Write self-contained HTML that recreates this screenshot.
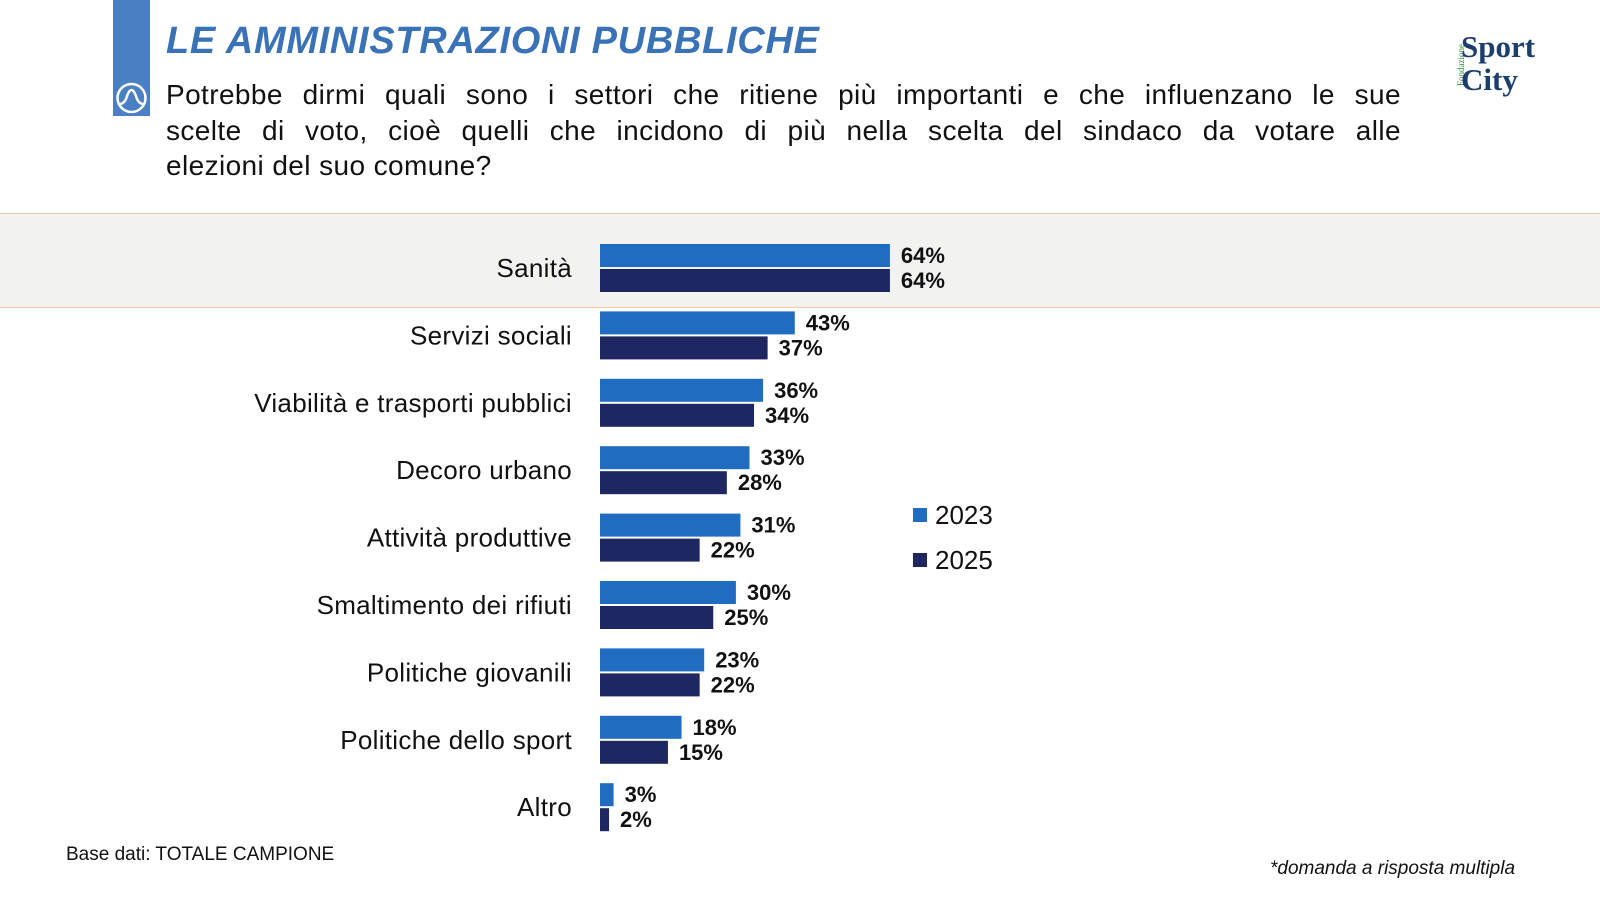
<!DOCTYPE html>
<html><head><meta charset="utf-8"><style>
body{margin:0;width:1600px;height:900px;background:#fff;position:relative;overflow:hidden;font-family:"Liberation Sans","DejaVu Sans",sans-serif;}
.abs{position:absolute;}
.ql{width:1235px;text-align:justify;text-align-last:justify;white-space:nowrap;}
</style></head><body>
<div class="abs" style="left:113px;top:0;width:37px;height:116px;background:#4a7fc4"></div>
<svg class="abs" style="left:113px;top:80px" width="37" height="36"><circle cx="18.5" cy="18" r="14" fill="none" stroke="#fff" stroke-width="2.5"/><path d="M6 24 Q12 24 14 16 Q18.5 4 23 16 Q25 24 31 24" fill="none" stroke="#fff" stroke-width="2.5"/></svg>
<div class="abs" style="left:166px;top:20px;font-size:38px;font-weight:bold;font-style:italic;color:#3a72b8;letter-spacing:0.7px">LE AMMINISTRAZIONI PUBBLICHE</div>
<div class="abs" style="left:166px;top:77px;width:1235px;font-size:28px;line-height:35.5px;color:#111;letter-spacing:0.4px">
<div class="ql">Potrebbe dirmi quali sono i settori che ritiene più importanti e che influenzano le sue</div>
<div class="ql">scelte di voto, cioè quelli che incidono di più nella scelta del sindaco da votare alle</div>
<div>elezioni del suo comune?</div>
</div>
<div class="abs" style="left:1448px;top:30px;width:100px;height:70px">
 <div class="abs" style="left:-8px;top:30px;transform:rotate(-90deg);font-size:9px;color:#2a8a3a;font-family:'Liberation Serif',serif">Fondazione</div>
 <div class="abs" style="left:13px;top:0;font-family:'Liberation Serif',serif;font-weight:bold;font-size:31px;line-height:33px;color:#1c3e6e">Sport<br>City</div>
</div>
<div class="abs" style="left:0;top:213px;width:1600px;height:93px;background:#f2f2f1;border-top:1px solid #f4c9a8;border-bottom:1px solid #f4c9a8"></div>
<svg class="abs" id="chart" style="left:0;top:0" width="1600" height="900"></svg>
<div class="abs" style="left:66px;top:844px;font-size:19px;color:#111">Base dati: TOTALE CAMPIONE</div>
<div class="abs" style="left:1270px;top:858px;font-size:19px;font-style:italic;color:#111">*domanda a risposta multipla</div>
<script>
const categories=["Sanità","Servizi sociali","Viabilità e trasporti pubblici","Decoro urbano","Attività produttive","Smaltimento dei rifiuti","Politiche giovanili","Politiche dello sport","Altro"];
const values2023=[64,43,36,33,31,30,23,18,3];
const values2025=[64,37,34,28,22,25,22,15,2];
const seriesNames=["2023","2025"];
const NS="http://www.w3.org/2000/svg";
const svg=document.getElementById('chart');
const x0=600,pxPer=4.53,y0=268,step=67.4,bh=23;
const xs=v=>v*pxPer;
const colors=["#1f6cc0","#1e2761"];
function mk(t,a){const e=document.createElementNS(NS,t);for(const k in a)e.setAttribute(k,a[k]);svg.appendChild(e);return e;}
categories.forEach((c,i)=>{
 const cy=y0+i*step;
 const l=mk('text',{x:572,y:cy+9,'text-anchor':'end','font-size':26,'letter-spacing':0.3,fill:'#111','font-family':'Liberation Sans, sans-serif'});
 l.textContent=c;
 
 
 [values2023[i],values2025[i]].forEach((v,s)=>{
  const y=s===0?cy-bh-1:cy+1;
  const r=mk('rect',{x:x0,y:y,width:xs(v),height:bh,fill:colors[s]});
  
  
  const t=mk('text',{x:x0+xs(v)+11,y:y+19,'font-size':22,'font-weight':'bold',fill:'#111','font-family':'Liberation Sans, sans-serif'});
  t.textContent=v+'%';
  
  
 });
});
seriesNames.forEach((n,s)=>{
 const y=515+s*45;
 const r=mk('rect',{x:913,y:y-7,width:14,height:14,fill:colors[s]});
 
 
 const t=mk('text',{x:935,y:y+9,'font-size':26,fill:'#111','font-family':'Liberation Sans, sans-serif'});
 t.textContent=n;
 
 
});
</script>
</body></html>
